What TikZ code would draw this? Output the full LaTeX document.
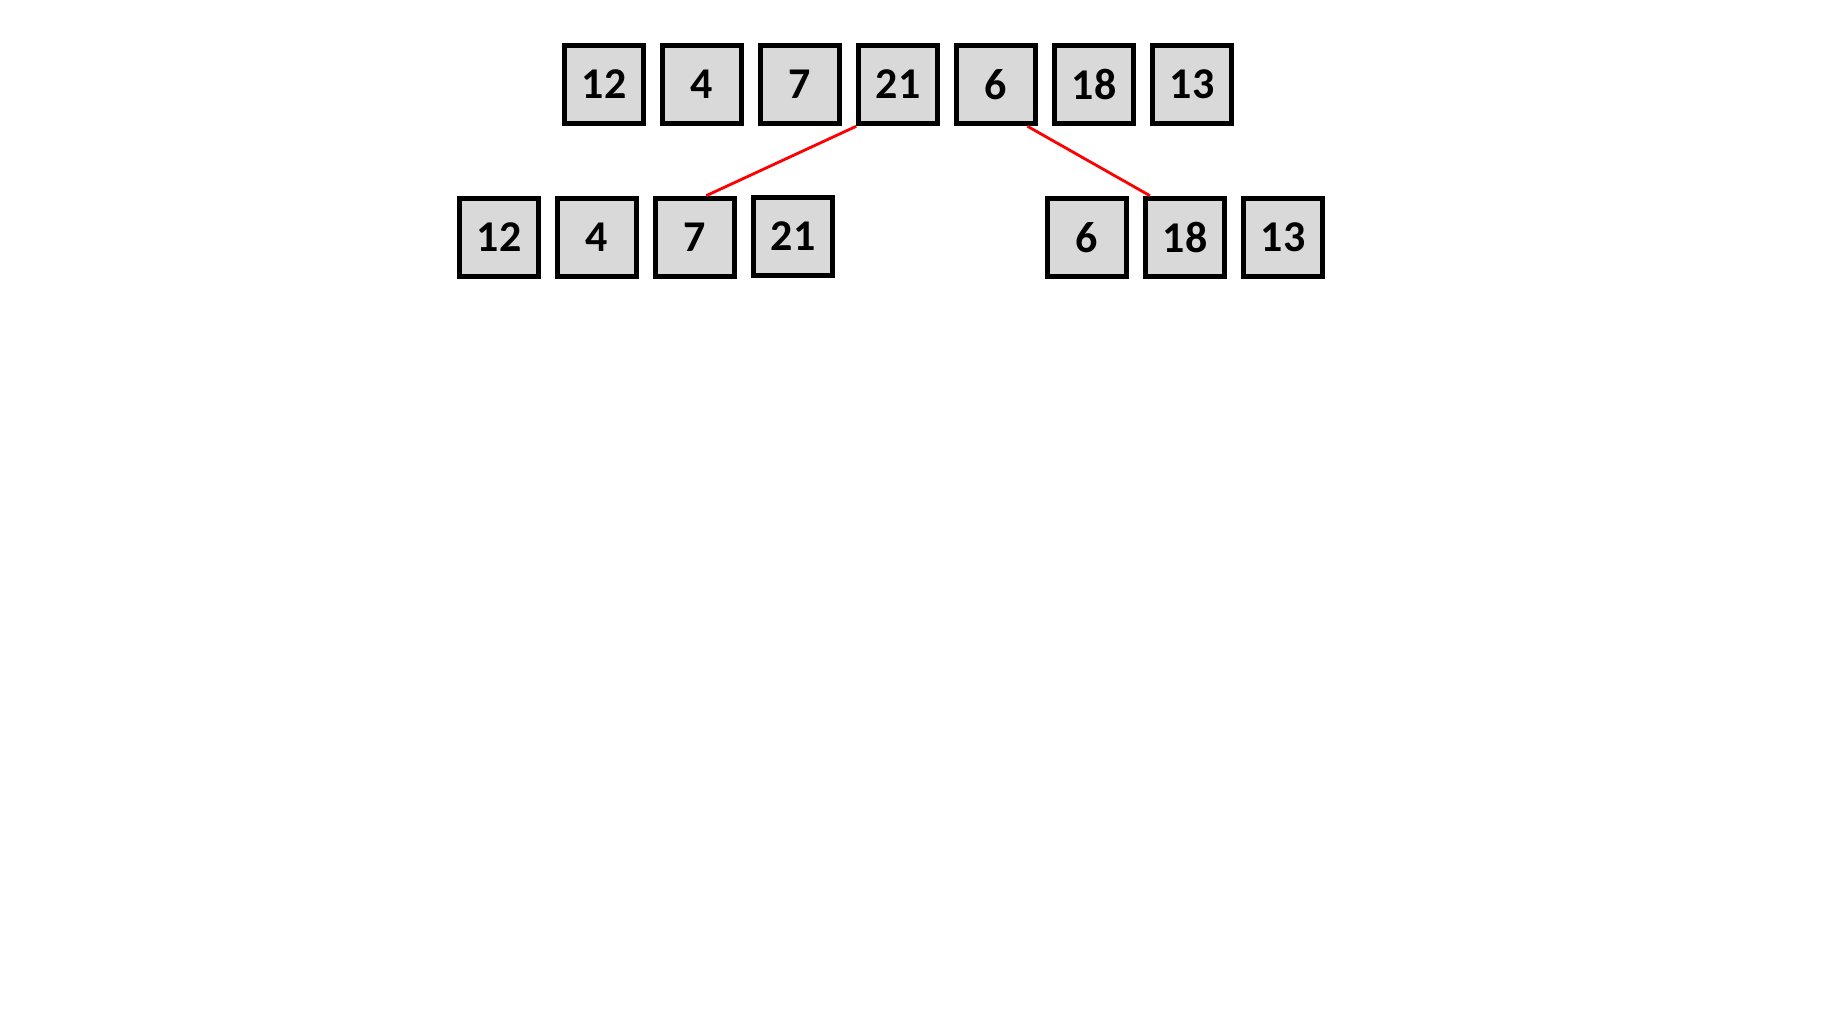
\documentclass[tikz,border=0pt]{standalone}
\usepackage{fontspec}
\setmainfont{Carlito}
\definecolor{cellgray}{RGB}{217,217,217}
\definecolor{splitred}{RGB}{255,0,0}

\begin{document}
\begin{tikzpicture}[
  cell/.style={draw=black,line width=1.45pt,fill=cellgray,minimum size=0.785cm,
    inner sep=0pt,font=\fontsize{12.5}{14}\selectfont\bfseries},
  split/.style={draw=splitred,line width=0.8pt}
]
\useasboundingbox (0,0) rectangle (18.4,10.21);

% ---------- Input array ----------
\node[cell] (t12) at (6.04,9.365) {12};
\node[cell] (t4)  at (7.02,9.365) {4};
\node[cell] (t7)  at (8.00,9.365) {7};
\node[cell] (t21) at (8.98,9.365) {21};
\node[cell] (t6)  at (9.96,9.365) {6};
\node[cell] (t18) at (10.94,9.365) {18};
\node[cell] (t13) at (11.92,9.365) {13};

% ---------- Left half ----------
\node[cell] (b12) at (4.99,7.835) {12};
\node[cell] (b4)  at (5.97,7.835) {4};
\node[cell] (b7)  at (6.95,7.835) {7};
\node[cell] (b21) at (7.93,7.845) {21};

% ---------- Right half ----------
\node[cell] (b6)  at (10.87,7.835) {6};
\node[cell] (b18) at (11.85,7.835) {18};
\node[cell] (b13) at (12.83,7.835) {13};

% ---------- Split lines ----------
\draw[split] (t21.south west) -- (b7.75);
\draw[split] (t6.-53) -- (b18.130);

\end{tikzpicture}
\end{document}
